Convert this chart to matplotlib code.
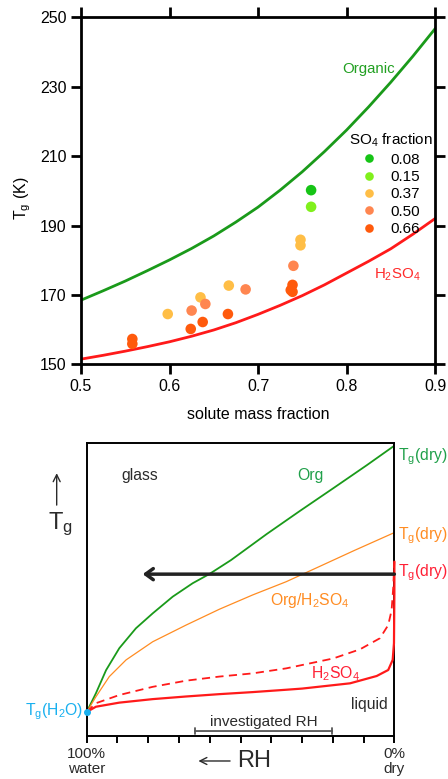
# Glass transition temperature of organic / sulfate particles:
# measured Tg vs solute mass fraction (top) and a sketch of Tg vs RH (bottom)

import matplotlib.pyplot as plt
from matplotlib.lines import Line2D
import numpy as np

plt.rcParams["font.family"] = ["Liberation Sans", "DejaVu Sans"]
plt.rcParams["mathtext.fontset"] = "custom"
plt.rcParams["mathtext.rm"] = "Liberation Sans"
plt.rcParams["mathtext.it"] = "Liberation Sans:italic"

# --------------------------------------------------------------------
# Data, top panel
# --------------------------------------------------------------------

curve_frac = [0.5, 0.525, 0.55, 0.575, 0.6, 0.625, 0.65, 0.675, 0.7,
              0.725, 0.75, 0.775, 0.8, 0.825, 0.85, 0.875, 0.9]
tg_organic = [168.5, 171.2, 174.0, 177.0, 180.1, 183.4, 187.0, 191.0, 195.3,
              200.2, 205.5, 211.3, 217.5, 224.2, 231.3, 238.8, 246.7]
tg_h2so4 = [151.5, 152.6, 153.8, 155.1, 156.5, 158.1, 159.9, 162.0, 164.4,
            167.0, 169.8, 172.9, 176.3, 179.7, 183.3, 187.5, 192.0]

point_frac = [0.760, 0.760, 0.748, 0.748, 0.740, 0.739, 0.737, 0.739,
              0.667, 0.686, 0.635, 0.6405, 0.625, 0.598, 0.666, 0.6375,
              0.624, 0.558, 0.558]
point_tg = [200.2, 195.4, 185.9, 184.3, 178.4, 172.9, 171.4, 170.9,
            172.7, 171.6, 169.3, 167.4, 165.5, 164.5, 164.5, 162.2,
            160.2, 157.3, 155.9]
point_so4 = [0.08, 0.15, 0.37, 0.37, 0.50, 0.66, 0.66, 0.66,
             0.37, 0.50, 0.37, 0.50, 0.50, 0.37, 0.66, 0.66,
             0.66, 0.66, 0.66]

so4_levels = [0.08, 0.15, 0.37, 0.50, 0.66]
so4_colors = {0.08: "#16c416", 0.15: "#80f01c", 0.37: "#ffbe46",
              0.50: "#ff8650", 0.66: "#ff5a0c"}

# --------------------------------------------------------------------
# Data, bottom panel (x: 0 = 100% RH / water, 1 = 0% RH / dry)
# --------------------------------------------------------------------

org_x = [0, 0.030, 0.063, 0.106, 0.160, 0.2145, 0.2795, 0.3445, 0.398,
         0.469, 0.585, 0.693, 0.802, 0.910, 1.0]
org_y = [0.082, 0.146, 0.225, 0.300, 0.368, 0.419, 0.476, 0.522, 0.553,
         0.601, 0.690, 0.769, 0.847, 0.925, 0.992]

mix_x = [0, 0.030, 0.0735, 0.128, 0.2145, 0.323, 0.431, 0.5395, 0.648,
         0.75, 0.87, 1.0]
mix_y = [0.082, 0.134, 0.203, 0.260, 0.322, 0.379, 0.433, 0.482, 0.527,
         0.576, 0.634, 0.695]

sulf_x = [0, 0.030, 0.106, 0.2145, 0.323, 0.431, 0.5395, 0.648, 0.7,
          0.856, 0.9425, 0.980, 0.9945, 0.9987, 1.0, 1.0]
sulf_y = [0.082, 0.100, 0.114, 0.126, 0.135, 0.143, 0.150, 0.158, 0.162,
          0.180, 0.205, 0.2255, 0.260, 0.317, 0.4875, 0.595]

sulf_mix_x = [0, 0.030, 0.106, 0.2145, 0.323, 0.431, 0.5395, 0.648, 0.8015,
              0.888, 0.953, 0.980, 0.991, 0.9965, 0.999, 1.0]
sulf_mix_y = [0.082, 0.112, 0.140, 0.168, 0.189, 0.203, 0.214, 0.231, 0.265,
              0.296, 0.334, 0.379, 0.430, 0.510, 0.577, 0.595]

rh_ticks = [0, 0.1, 0.2, 0.3, 0.4, 0.5, 0.6, 0.7, 0.8, 0.9, 1.0]
rh_tick_labels = ["100%\nwater", "", "", "", "", "", "", "", "", "", "0%\ndry"]

investigated_rh = [0.352, 0.798]

GREEN = "#1a9a1a"
RED = "#ff1a1a"
ORANGE = "#ff8c22"
DARK = "#2b2b2b"

fig = plt.figure(figsize=(4.48, 7.79), dpi=100)

# --------------------------------------------------------------------
# Top panel
# --------------------------------------------------------------------

ax = fig.add_axes([0.1808, 0.5323, 0.7902, 0.4454])
ax.plot(curve_frac, tg_organic, color=GREEN, lw=2.0)
ax.plot(curve_frac, tg_h2so4, color=RED, lw=2.0)

ax.scatter(point_frac, point_tg, s=58, c=[so4_colors[v] for v in point_so4],
           edgecolors="none", zorder=3)

ax.set_xlim(0.5, 0.9)
ax.set_ylim(150, 250)
ax.set_xticks([0.5, 0.6, 0.7, 0.8, 0.9])
ax.set_yticks([150, 170, 190, 210, 230, 250])
for spine in ax.spines.values():
    spine.set_linewidth(2.0)
ax.tick_params(direction="out", length=7, width=2.0, top=True, right=True,
               labelsize=11.5, pad=3.5)

ax.set_xlabel("solute mass fraction", fontsize=11.5)
ax.xaxis.set_label_coords(0.5, -0.123)
ax.set_ylabel(r"T$_\mathregular{g}$ (K)", fontsize=11.5)
ax.yaxis.set_label_coords(-0.135, 0.48)

ax.text(0.825, 235.2, "Organic", color="#22a022", fontsize=10.8,
        ha="center", va="center")
ax.text(0.857, 175.7, r"H$_\mathregular{2}$SO$_\mathregular{4}$",
        color="#ff2a2a", fontsize=10.8, ha="center", va="center")

handles = [Line2D([], [], ls="none", marker="o", markersize=6.2,
                  markerfacecolor=so4_colors[v], markeredgecolor="none")
           for v in so4_levels]
ax.legend(handles, [f"{v:.2f}" for v in so4_levels],
          title=r"SO$_\mathregular{4}$ fraction", title_fontsize=11,
          fontsize=11, frameon=False, loc="upper center",
          bbox_to_anchor=(0.876, 0.692), borderpad=0, labelspacing=0.22,
          handlelength=0.8, handletextpad=1.0)

# --------------------------------------------------------------------
# Bottom panel
# --------------------------------------------------------------------

bx = fig.add_axes([0.1935, 0.0552, 0.6868, 0.3757])
bx.plot(org_x, org_y, color=GREEN, lw=1.3)
bx.plot(mix_x, mix_y, color=ORANGE, lw=0.9)
bx.plot(sulf_x, sulf_y, color=RED, lw=1.6, zorder=3, clip_on=False)
bx.plot(sulf_mix_x, sulf_mix_y, color=RED, lw=1.3, ls=(0, (4.5, 3)),
        zorder=3, clip_on=False)
bx.plot([0], [0.082], "o", color="#19b0ef", markersize=4, zorder=5,
        clip_on=False)

bx.set_xlim(0, 1)
bx.set_ylim(0, 1)
bx.set_yticks([])
bx.set_xticks(rh_ticks)
bx.set_xticklabels(rh_tick_labels, fontsize=11, linespacing=1.05)
for spine in bx.spines.values():
    spine.set_linewidth(1.4)
bx.tick_params(axis="x", direction="out", length=5, width=1.4, pad=3,
               labelcolor=DARK)

# big arrow: going from dry conditions towards humid ones
bx.annotate("", xy=(0.182, 0.553), xytext=(1.0, 0.553),
            arrowprops=dict(arrowstyle="->,head_length=0.55,head_width=0.4",
                            lw=2.5, color="#222222", shrinkA=0, shrinkB=0),
            zorder=6, annotation_clip=False)

# investigated RH range
bx.annotate("", xy=(investigated_rh[0], 0.017), xytext=(investigated_rh[1], 0.017),
            arrowprops=dict(arrowstyle="|-|,widthA=0.2,widthB=0.2", lw=1.3,
                            color="#555555", shrinkA=0, shrinkB=0))
bx.text(np.mean(investigated_rh), 0.049, "investigated RH", fontsize=11,
        color=DARK, ha="center", va="center")

bx.text(0.173, 0.889, "glass", fontsize=11.3, color=DARK, ha="center", va="center")
bx.text(0.918, 0.107, "liquid", fontsize=11.3, color=DARK, ha="center", va="center")
bx.text(0.728, 0.891, "Org", fontsize=11.3, color="#20a04a", ha="center", va="center")
bx.text(0.725, 0.462, r"Org/H$_\mathregular{2}$SO$_\mathregular{4}$", fontsize=11.3,
        color=ORANGE, ha="center", va="center")
bx.text(0.807, 0.212, r"H$_\mathregular{2}$SO$_\mathregular{4}$", fontsize=11.3,
        color="#ff2035", ha="center", va="center")

dry_label = r"T$_\mathregular{g}$(dry)"
bx.text(1.013, 0.943, dry_label, fontsize=11.3, color="#20a04a", va="baseline",
        ha="left", clip_on=False)
bx.text(1.013, 0.672, dry_label, fontsize=11.3, color=ORANGE, va="baseline",
        ha="left", clip_on=False)
bx.text(1.013, 0.547, dry_label, fontsize=11.3, color="#ff2035", va="baseline",
        ha="left", clip_on=False)
bx.text(-0.011, 0.083, r"T$_\mathregular{g}$(H$_\mathregular{2}$O)", fontsize=11.3,
        color="#19b0ef", ha="right", va="center", clip_on=False)

# axis hints: Tg up, RH to the left
bx.annotate("", xy=(-0.0975, 0.898), xytext=(-0.0975, 0.789),
            xycoords="axes fraction",
            arrowprops=dict(arrowstyle="->,head_length=0.5,head_width=0.25",
                            lw=1.0, color=DARK, shrinkA=0, shrinkB=0),
            annotation_clip=False)
bx.text(-0.087, 0.725, r"T$_\mathregular{g}$", fontsize=17, color=DARK,
        ha="center", va="center", transform=bx.transAxes)

bx.annotate("", xy=(0.363, -0.0854), xytext=(0.466, -0.0854),
            xycoords="axes fraction",
            arrowprops=dict(arrowstyle="->,head_length=0.5,head_width=0.25",
                            lw=1.0, color=DARK, shrinkA=0, shrinkB=0),
            annotation_clip=False)
bx.text(0.4895, -0.0854, "RH", fontsize=17, color=DARK, ha="left",
        va="center", transform=bx.transAxes)

fig.savefig("out.png", dpi=100)
